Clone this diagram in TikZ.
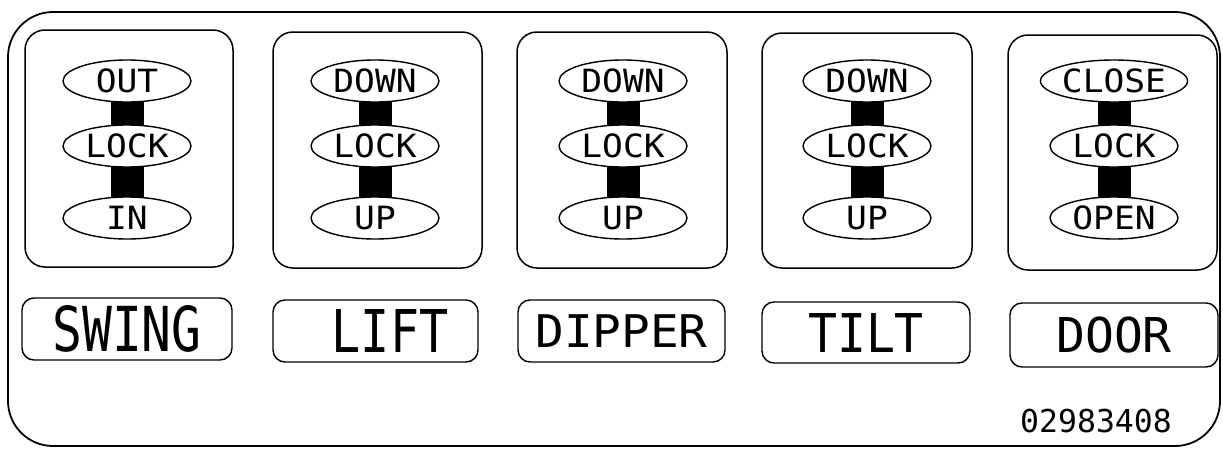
\documentclass[tikz,border=0pt]{standalone}
\usepackage{fontspec}
\newfontfamily\lcd{DejaVu Sans Mono}
\usetikzlibrary{shapes.geometric,backgrounds}
\newcommand\lcdtxt[3]{\scalebox{#2}[1]{\fontsize{#1}{#1}\selectfont\lcd #3}}
\tikzset{
  frame/.style={draw, line width=1.8, rounded corners=45},
  panelbox/.style={draw, line width=1.5, rounded corners=20},
  posn/.style={ellipse, draw, fill=white, line width=1.4, minimum width=128, minimum height=42, inner sep=0},
  lblbox/.style={draw, rounded corners=12, line width=1.4, inner sep=0, minimum width=208, minimum height=62},
  barline/.style={line width=33, draw=black},
}
\begin{document}
\begin{tikzpicture}[x=1pt,y=-1pt]
\useasboundingbox (0,0) rectangle (1223,448);
\draw[frame] (8,12) rectangle (1220,446);
% panels
\draw[panelbox] (25,30) rectangle (233,267);
\draw[panelbox] (273,32) rectangle (482,268);
\draw[panelbox] (517,32) rectangle (727,268);
\draw[panelbox] (762,33) rectangle (972,268);
\draw[panelbox] (1008,35) rectangle (1217,270);
% positions
\foreach \i/\x/\a/\b/\c in {1/127/OUT/LOCK/IN, 2/375/DOWN/LOCK/UP, 3/623/DOWN/LOCK/UP, 4/867/DOWN/LOCK/UP, 5/1114/CLOSE/LOCK/OPEN}{
  \node[posn] (t\i) at (\x,81) {\lcdtxt{32}{1.08}{\a}};
  \node[posn] (m\i) at (\x,146) {\lcdtxt{32}{1.08}{\b}};
  \node[posn] (b\i) at (\x,218) {\lcdtxt{32}{1.08}{\c}};
  \begin{scope}[on background layer]
    \draw[barline] (t\i.center) -- (b\i.center);
  \end{scope}
}
% labels
\node[lblbox, minimum width=210] (swing) at (127,329) {\lcdtxt{62}{0.8}{SWING}};
\node[lblbox, minimum width=205] (lift) at (375.5,331) {\lcdtxt{59}{0.82}{\ LIFT}};
\node[lblbox, minimum width=207] (dipper) at (621.5,331) {\lcdtxt{45}{1.06}{DIPPER}};
\node[lblbox, minimum height=61] (tilt) at (866,332.5) {\lcdtxt{53.5}{0.9}{TILT}};
\node[lblbox, minimum height=64] (door) at (1114,335) {\lcdtxt{48}{1}{DOOR}};
\node (code) at (1096,421) {\lcdtxt{31.5}{1}{02983408}};
\end{tikzpicture}
\end{document}
